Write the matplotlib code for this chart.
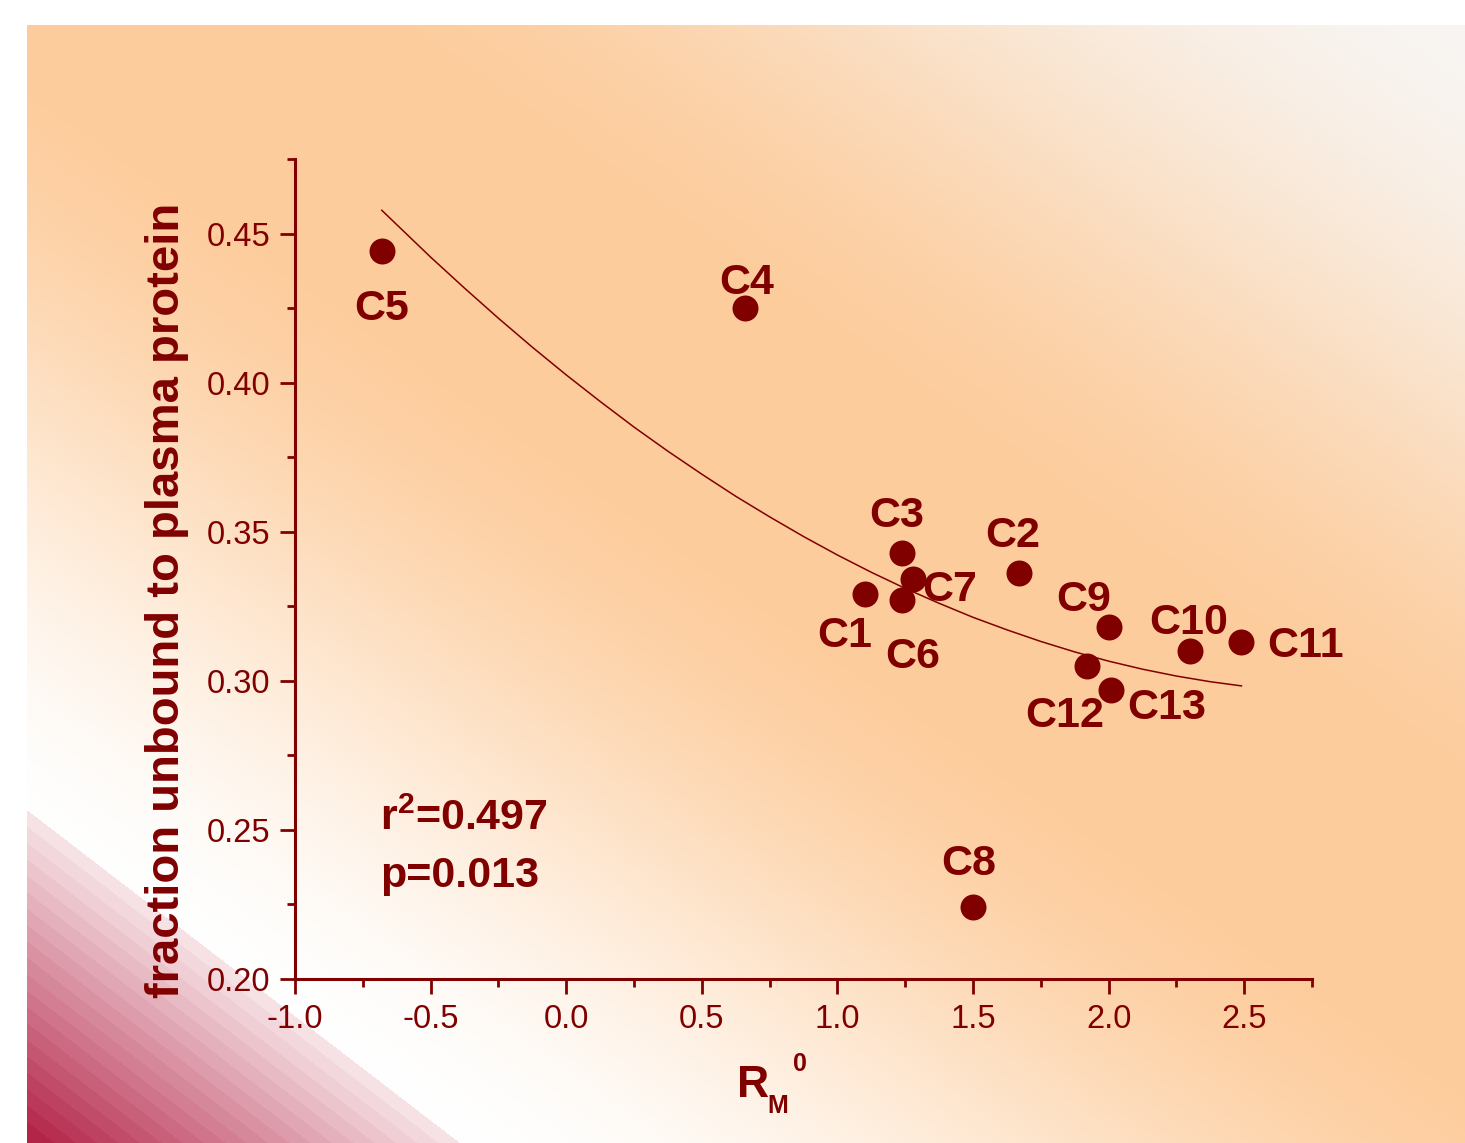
import numpy as np
import matplotlib
matplotlib.use('Agg')
import matplotlib.pyplot as plt
from matplotlib.ticker import MultipleLocator, FormatStrFormatter

plt.rcParams['font.family'] = ['Liberation Sans', 'DejaVu Sans']
plt.rcParams['mathtext.fontset'] = 'custom'
plt.rcParams['mathtext.rm'] = 'Liberation Sans'
plt.rcParams['mathtext.bf'] = 'Liberation Sans:bold'

# data
names = ['C1', 'C2', 'C3', 'C4', 'C5', 'C6', 'C7', 'C8', 'C9', 'C10', 'C11', 'C12', 'C13']
rm0 = [1.10, 1.67, 1.24, 0.66, -0.68, 1.24, 1.28, 1.50, 2.00, 2.30, 2.49, 1.92, 2.01]
fu = [0.329, 0.336, 0.343, 0.425, 0.444, 0.327, 0.334, 0.224, 0.318, 0.310, 0.313, 0.305, 0.297]

# fitted curve, read at a few x values
fit_x = [-0.68, -0.5, -0.375, -0.25, -0.125, 0.0, 0.125, 0.25, 0.375, 0.5, 0.625, 0.75,
         0.875, 1.0, 1.125, 1.25, 1.375, 1.5, 1.625, 1.75, 1.875, 2.0, 2.125, 2.25,
         2.375, 2.49]
fit_y = [0.4578, 0.4421, 0.4317, 0.4216, 0.4119, 0.4026, 0.3937, 0.3851, 0.3770, 0.3693,
         0.3619, 0.3550, 0.3484, 0.3422, 0.3364, 0.3310, 0.3260, 0.3213, 0.3171, 0.3132,
         0.3097, 0.3066, 0.3039, 0.3016, 0.2997, 0.2983]

# label offsets (pixels, label centre relative to the point)
offsets = {'C1': (-20, -37), 'C2': (-6, 42), 'C3': (-6, 41), 'C4': (1, 30),
           'C5': (0, -53), 'C6': (10, -52), 'C7': (36, -6), 'C8': (-4, 48),
           'C9': (-25, 32), 'C10': (-1, 33), 'C11': (64, 1), 'C12': (-22, -46),
           'C13': (55, -14)}

red = '#800000'
W, H = 1465, 1143

fig = plt.figure(figsize=(W / 100, H / 100), dpi=100)

# background gradient
yy, xx = np.mgrid[0:H, 0:W].astype(float)
d = ((yy - 400) - 0.7 * (xx - 700)) / 1.22
t = np.clip((np.abs(d) - 80) / 680, 0, 1)
t = t * t * (3 - 2 * t)
orange = np.array([253, 204, 156]) / 255
far_pos = np.array([255, 255, 255]) / 255
far_neg = np.array([248, 245, 242]) / 255
far = np.where((d > 0)[..., None], far_pos, far_neg)
img = orange * (1 - t[..., None]) + far * t[..., None]

# striped pink corner
s = ((xx - 27) * (-333) + (yy - 810) * 433) / 546.3
k = np.floor(s / 13)
frac = np.clip((k + 1) * 13 / 264, 0, 1)
light = np.array([250, 236, 238]) / 255
crimson = np.array([178, 34, 70]) / 255
pink = light * (1 - frac[..., None]) + crimson * frac[..., None]
img = np.where((s > 0)[..., None], pink, img)
img[:25, :] = 1
img[:, :27] = 1

bg = fig.add_axes([0, 0, 1, 1], zorder=0)
bg.imshow(img, aspect='auto', interpolation='nearest')
bg.axis('off')

ax = fig.add_axes([295 / W, 1 - 979 / H, (1312 - 295) / W, (979 - 159) / H], zorder=1)
ax.set_facecolor('none')

ax.plot(fit_x, fit_y, color=red, lw=1.1, zorder=2)
ax.scatter(rm0, fu, s=350, color=red, zorder=3, linewidths=0)

for n, x, y in zip(names, rm0, fu):
    dx, dy = offsets[n]
    ax.annotate(n, (x, y), xytext=(dx, dy - 15.5), textcoords='offset pixels',
                ha='center', va='baseline', fontsize=31, fontweight='bold', color=red)

ax.text(-0.686, 0.250, r'r$^{\mathbf{2}}$=0.497', fontsize=31, fontweight='bold',
        color=red, va='baseline')
ax.text(-0.686, 0.2309, 'p=0.013', fontsize=31, fontweight='bold', color=red, va='baseline')

ax.set_xlim(-1.0, 2.75)
ax.set_ylim(0.20, 0.475)
ax.xaxis.set_major_locator(MultipleLocator(0.5))
ax.xaxis.set_minor_locator(MultipleLocator(0.25))
ax.yaxis.set_major_locator(MultipleLocator(0.05))
ax.yaxis.set_minor_locator(MultipleLocator(0.025))
ax.xaxis.set_major_formatter(FormatStrFormatter('%.1f'))
ax.yaxis.set_major_formatter(FormatStrFormatter('%.2f'))

for side in ['top', 'right']:
    ax.spines[side].set_visible(False)
for side in ['left', 'bottom']:
    ax.spines[side].set_linewidth(2.2)
    ax.spines[side].set_color(red)

ax.tick_params(which='major', direction='out', length=11, width=2, color=red,
               labelsize=23.5, labelcolor=red, pad=7)
ax.tick_params(which='minor', direction='out', length=6, width=2, color=red)

ax.set_ylabel('fraction unbound to plasma protein', fontsize=34, fontweight='bold', color=red)
ax.yaxis.set_label_coords(-0.104, 0.462)

# x label R_M^0
fig.text(737 / W, 1 - 1097 / H, 'R', fontsize=32, fontweight='bold', color=red, va='baseline')
fig.text(767 / W, 1 - 1113 / H, 'M', fontsize=18, fontweight='bold', color=red, va='baseline')
fig.text(793 / W, 1 - 1071 / H, '0', fontsize=18, fontweight='bold', color=red, va='baseline')

fig.savefig('out.png', dpi=100)
